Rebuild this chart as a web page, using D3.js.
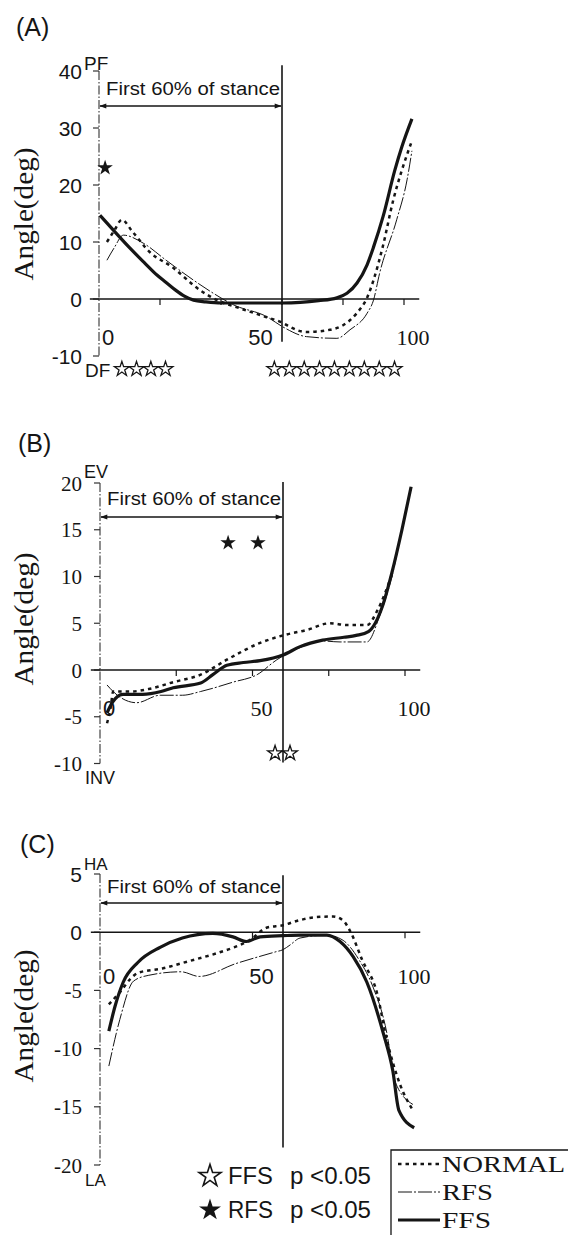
<!DOCTYPE html>
<html><head><meta charset="utf-8">
<script src="https://cdn.jsdelivr.net/npm/d3@7/dist/d3.min.js"></script>
<style>body{margin:0;background:#fff}svg{display:block}</style>
</head><body>
<svg id="chart" width="568" height="1235"></svg>
<script>
// ---------- data (stance %, angle deg) ----------
const seriesNames = ["NORMAL", "RFS", "FFS"];

const sagNormal = [[2.6,10],[5,12],[7.5,13.9],[11,11.8],[16.7,8.2],[24,5.6],[33,1.6],[38.7,-0.2],[46,-1.6],[55,-3.2],[60.3,-4.2],[62.6,-4.9],[68,-5.8],[75.7,-5.4],[80,-4.6],[84.5,-2.5],[88,0.35],[90,3.3],[93,9.1],[96.5,17.4],[99.3,22.6],[102.3,27.3]];
const sagRFS = [[2.6,6.8],[5,9],[8,11.2],[14.5,9.8],[22,6.8],[31,3.3],[37.5,1],[44,-1],[55,-3.1],[60.3,-4.9],[68,-6.6],[78,-6.9],[82.3,-5.4],[87.9,-2.5],[90,-0.2],[92,4.5],[97.6,13.9],[101,20.9],[102.6,26]];
const sagFFS = [[0.3,14.7],[5,11.9],[10,9.0],[15,6.3],[19,4.2],[22,2.9],[25,1.6],[28,0.5],[31,-0.2],[35,-0.5],[40,-0.7],[50,-0.7],[60,-0.7],[66,-0.6],[72,-0.3],[78,0.2],[81.3,1.0],[84.6,2.8],[87.9,6],[90,9.1],[93.1,14.4],[97,22.6],[99.3,26.7],[102.6,31.6]];

const frontNormal = [[2.3,-5.7],[3.5,-4],[4.3,-2.3],[10,-2.3],[16.4,-2.0],[24,-1.3],[33,-0.5],[41.6,1.1],[52.5,2.9],[60,3.7],[68,4.3],[75.4,5.0],[81,4.8],[87.5,4.8],[91,6.4],[95.7,10.2]];
const frontRFS = [[2.3,-1.6],[4.3,-2.3],[12,-3.5],[19.7,-2.7],[27,-2.7],[33,-2.3],[43.6,-1.3],[51.5,-0.5],[58,1.1],[60,1.5],[65.6,2.4],[73,3.1],[78.7,3.0],[87.5,3.0],[91.8,5.9],[95.7,10],[99,15],[102,19.4]];
const frontFFS = [[2.3,-4.6],[4,-3.5],[7.5,-2.6],[14,-2.6],[20,-2.3],[24,-1.9],[33,-1.4],[37,-0.5],[41.6,0.5],[47,0.8],[52.5,1.0],[60,1.6],[65.6,2.5],[73,3.2],[80,3.5],[84,3.7],[88,4.1],[92.8,7.0],[95.7,10.4],[99,15],[102,19.6]];

const transNormal = [[2.9,-6.2],[7,-5],[10,-4],[12.4,-3.5],[20.7,-3.1],[29,-2.5],[38.4,-1.8],[44,-1.3],[49,-0.7],[54.8,0.4],[60,0.6],[65,1.0],[71,1.3],[76.4,1.35],[79.7,1.0],[82,0.1],[86,-2.4],[90.8,-5.2],[94,-9.2],[98.4,-13.1],[102.6,-15.3]];
const transRFS = [[2.9,-11.5],[6.5,-7.5],[11,-4.2],[16,-3.7],[26.6,-3.4],[32.5,-3.8],[44.5,-2.7],[57.4,-1.7],[60,-1.5],[62.3,-1.1],[65.6,-0.5],[74.4,-0.25],[79.7,-0.7],[85,-2.4],[89.5,-4.7],[94,-8.6],[96.7,-12.8],[102.6,-14.8]];
const transFFS = [[2.9,-8.5],[5,-6.3],[7.6,-4.3],[12.4,-2.6],[19.7,-1.3],[27,-0.5],[37,-0.1],[43.6,-0.4],[48,-0.8],[52.5,-0.4],[60,-0.3],[65.6,-0.25],[74.4,-0.25],[78.7,-0.8],[83,-2.1],[87.5,-4.3],[92.8,-8.6],[96,-11.9],[98,-15.3],[103,-16.8]];

// significance stars [x, y]
const sagHollowStars = [[7.5,-12.3],[12.3,-12.3],[17,-12.3],[21.8,-12.3],[57.5,-12.3],[62.4,-12.3],[67.3,-12.3],[72.3,-12.3],[77.2,-12.3],[82.1,-12.3],[87,-12.3],[91.9,-12.3],[96.9,-12.3]];
const sagFilledStars = [[2,23]];
const frontHollowStars = [[57.4,-8.9],[62.3,-8.9]];
const frontFilledStars = [[42,13.6],[51.8,13.6]];

const yTicksA = [40,30,20,10,0,-10];
const yTicksB = [20,15,10,5,0,-5,-10];
const yTicksC = [5,0,-5,-10,-15,-20];
const xTickMarksA = [20,40,60,80,100];
const xTickMarksB = [25,50,75,100];
const xTickMarksC = [50,100];
const xTickLabels = [0,50,100];
const stanceLimit = 60;
const panelTitles = ["(A)","(B)","(C)"];
const unitLabels = [["PF","DF"],["EV","INV"],["HA","LA"]];
const stanceText = "First 60% of stance";
const axisTitle = "Angle(deg)";

// ---------- drawing ----------
const svg = d3.select("#chart");
const SANS = "'Liberation Sans', Arial, sans-serif";
const SERIF = "'Liberation Serif', 'Times New Roman', serif";
const INK = "#151515";

svg.append("defs").html(
  '<marker id="ah" viewBox="0 0 10 10" refX="9" refY="5" markerWidth="9" markerHeight="7" markerUnits="userSpaceOnUse" orient="auto-start-reverse"><path d="M0,1.5 L10,5 L0,8.5 z" fill="#151515"/></marker>');

const styles = {
  NORMAL: {w: 2.5, dash: "3.5,4"},
  RFS: {w: 1.0, dash: "14,2,2,2"},
  FFS: {w: 3.2, dash: null}
};

const panels = [
  {title: panelTitles[0], titleY: 36, xr: [99,404], yd: [-10,40], yr: [356,71], yTicks: yTicksA, xMarks: xTickMarksA,
   series: [sagNormal, sagRFS, sagFFS], units: unitLabels[0], labOff: 38, vTop: 41, vBot: -7.5,
   textBase: 95, arrowY: 106, angleY: 214, hollow: sagHollowStars, filled: sagFilledStars, yFont: () => SANS,
   xFont: v => v === 100 ? SERIF : SANS, unitSize: 19, topOff: -1, botOff: 21},
  {title: panelTitles[1], titleY: 452, xr: [100,405], yd: [-10,20], yr: [763.5,483], yTicks: yTicksB, xMarks: xTickMarksB,
   series: [frontNormal, frontRFS, frontFFS], units: unitLabels[1], labOff: 38, vTop: 20.1, vBot: -9.9,
   textBase: 505, arrowY: 517, angleY: 619, hollow: frontHollowStars, filled: frontFilledStars, yFont: () => SERIF,
   xFont: v => v === 0 ? SANS : SERIF, unitSize: 18, topOff: -5, botOff: 20},
  {title: panelTitles[2], titleY: 853, xr: [100,405], yd: [-20,5], yr: [1165,874], yTicks: yTicksC, xMarks: xTickMarksC,
   series: [transNormal, transRFS, transFFS], units: unitLabels[2], labOff: 44, vTop: 4.9, vBot: -18.5,
   textBase: 893, arrowY: 903, angleY: 1016, hollow: [], filled: [], yFont: v => v >= 0 ? SANS : SERIF,
   xFont: v => v === 100 ? SERIF : SANS, unitSize: 17, topOff: -4, botOff: 21}
];

const hollowStar = d3.symbol().type(d3.symbolStar).size(68);
const filledStar = d3.symbol().type(d3.symbolStar).size(75);

panels.forEach((p, i) => {
  const g = svg.append("g");
  const x = d3.scaleLinear().domain([0,100]).range(p.xr);
  const y = d3.scaleLinear().domain(p.yd).range(p.yr);
  const x0 = x(0), y0 = y(0);

  g.append("text").attr("x", 16 + i*2).attr("y", p.titleY).attr("font-family", SANS)
    .attr("font-size", 25).attr("fill", INK).text(p.title);

  g.append("text").attr("transform", `translate(33,${p.angleY}) rotate(-90)`)
    .attr("text-anchor", "middle").attr("font-family", SERIF).attr("font-size", 28)
    .attr("textLength", 133).attr("lengthAdjust", "spacingAndGlyphs").attr("fill", INK).text(axisTitle);

  g.append("line").attr("x1", x0).attr("x2", x0).attr("y1", y(p.yd[1])).attr("y2", y(p.yd[0]))
    .attr("stroke", "#444").attr("stroke-width", 1.2).attr("stroke-dasharray", "9,2,1.5,2");
  p.yTicks.forEach(t => {
    g.append("line").attr("x1", x0 - 6).attr("x2", x0).attr("y1", y(t)).attr("y2", y(t))
      .attr("stroke", "#333").attr("stroke-width", 1.2);
    g.append("text").attr("x", 82).attr("y", y(t)).attr("dy", "0.36em").attr("text-anchor", "end")
      .attr("font-family", p.yFont(t)).attr("font-size", 21).attr("fill", INK).text(t);
  });
  g.append("text").attr("x", 84).attr("y", y(p.yd[1]) + p.topOff).attr("font-family", SANS)
    .attr("font-size", p.unitSize).attr("fill", INK).text(p.units[0]);
  g.append("text").attr("x", 85).attr("y", y(p.yd[0]) + p.botOff).attr("font-family", SANS)
    .attr("font-size", p.unitSize).attr("fill", INK).text(p.units[1]);

  g.append("line").attr("x1", x(-3)).attr("x2", x(105)).attr("y1", y0).attr("y2", y0)
    .attr("stroke", INK).attr("stroke-width", 1.4);
  p.xMarks.forEach(t => {
    g.append("line").attr("x1", x(t)).attr("x2", x(t)).attr("y1", y0).attr("y2", y0 + 6)
      .attr("stroke", INK).attr("stroke-width", 1.2);
  });
  xTickLabels.forEach(t => {
    g.append("text").attr("x", x(t) + 9).attr("y", y0 + p.labOff).attr("dy", "0.36em")
      .attr("text-anchor", "middle").attr("font-family", p.xFont(t)).attr("font-size", 22)
      .attr("fill", INK).text(t);
  });

  g.append("line").attr("x1", x(stanceLimit)).attr("x2", x(stanceLimit))
    .attr("y1", y(p.vTop)).attr("y2", y(p.vBot)).attr("stroke", INK).attr("stroke-width", 1.6);
  g.append("line").attr("x1", x0 + 1).attr("x2", x(stanceLimit) - 1).attr("y1", p.arrowY).attr("y2", p.arrowY)
    .attr("stroke", INK).attr("stroke-width", 1.3)
    .attr("marker-start", "url(#ah)").attr("marker-end", "url(#ah)");
  g.append("text").attr("x", x0 + 7).attr("y", p.textBase).attr("font-family", SANS)
    .attr("font-size", 18).attr("textLength", x(stanceLimit) - x0 - 9).attr("lengthAdjust", "spacingAndGlyphs")
    .attr("fill", INK).text(stanceText);

  const line = d3.line().x(d => x(d[0])).y(d => y(d[1])).curve(d3.curveMonotoneX);
  p.series.forEach((s, k) => {
    const st = styles[seriesNames[k]];
    g.append("path").attr("d", line(s)).attr("fill", "none").attr("stroke", INK)
      .attr("stroke-width", st.w).attr("stroke-dasharray", st.dash).attr("stroke-linejoin", "round");
  });

  g.selectAll(".hs").data(p.hollow).enter().append("path")
    .attr("d", hollowStar).attr("transform", d => `translate(${x(d[0])},${y(d[1])})`)
    .attr("fill", "#fff").attr("stroke", INK).attr("stroke-width", 1.3);
  g.selectAll(".fs").data(p.filled).enter().append("path")
    .attr("d", filledStar).attr("transform", d => `translate(${x(d[0])},${y(d[1])})`)
    .attr("fill", INK);
});

// ---------- significance legend ----------
const sigLegend = [["FFS", false, 1176], ["RFS", true, 1210]];
const bigStar = d3.symbol().type(d3.symbolStar).size(150);
sigLegend.forEach(([name, filled, cy]) => {
  svg.append("path").attr("d", bigStar).attr("transform", `translate(210,${cy})`)
    .attr("fill", filled ? INK : "#fff").attr("stroke", INK).attr("stroke-width", filled ? 0 : 1.6);
  svg.append("text").attr("x", 228).attr("y", cy + 8).attr("font-family", SANS).attr("font-size", 23)
    .attr("textLength", 45).attr("lengthAdjust", "spacingAndGlyphs").attr("fill", INK).text(name);
  svg.append("text").attr("x", 290).attr("y", cy + 8).attr("font-family", SANS).attr("font-size", 23)
    .attr("textLength", 81).attr("lengthAdjust", "spacingAndGlyphs").attr("fill", INK).text("p <0.05");
});

// ---------- series legend ----------
svg.append("path").attr("d", "M391,1235 V1150 H568").attr("fill", "none")
  .attr("stroke", INK).attr("stroke-width", 1.3);
const legendRows = [[1164, 123], [1192, 51], [1220, 49]];
seriesNames.forEach((n, k) => {
  const st = styles[n];
  const [cy, tl] = legendRows[k];
  svg.append("line").attr("x1", 398).attr("x2", 440).attr("y1", cy).attr("y2", cy)
    .attr("stroke", INK).attr("stroke-width", st.w).attr("stroke-dasharray", st.dash);
  svg.append("text").attr("x", 442).attr("y", cy + 8).attr("font-family", SERIF).attr("font-size", 24)
    .attr("textLength", tl).attr("lengthAdjust", "spacingAndGlyphs").attr("fill", INK).text(n);
});
</script>
</body></html>
